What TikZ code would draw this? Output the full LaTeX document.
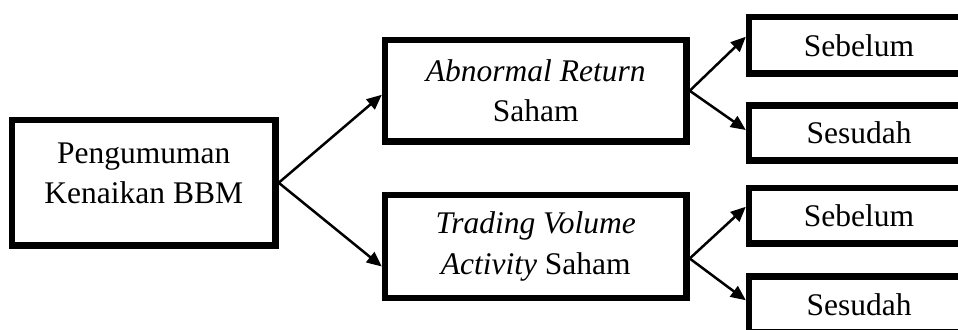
\documentclass[tikz,border=0pt]{standalone}
\usepackage{fontspec}
\setmainfont{Liberation Serif}
\usepackage{tikz}
\usetikzlibrary{arrows.meta}

\begin{document}
\begin{tikzpicture}[x=0.5pt, y=-0.5pt, font=\fontsize{15.75pt}{20.4pt}\selectfont,
        box/.style={draw, line width=3.2pt, inner sep=0pt, align=center},
        arr/.style={-{Triangle[length=7.5pt,width=6.5pt]}, line width=1.25pt}]
        \useasboundingbox (0,0) rectangle (958,329);
        \clip (0,0) rectangle (958,329);
        \node[box, minimum width=131.75pt, minimum height=62.75pt, text depth=9.5pt] (bbm) at (143.75,182.75) {Pengumuman\\Kenaikan BBM};
        \node[box, minimum width=150.75pt, minimum height=50.75pt] (ar) at (535.75,90.75) {\textit{Abnormal Return}\\Saham};
        \node[box, minimum width=150.75pt, minimum height=51.5pt] (tva) at (535.75,246.5) {\textit{Trading Volume}\\\textit{Activity} Saham};
        \node[box, minimum width=110pt, minimum height=28.25pt] (arseb) at (859,45.25) {Sebelum};
        \node[box, minimum width=110pt, minimum height=27.5pt] (arses) at (859,133) {Sesudah};
        \node[box, minimum width=110pt, minimum height=27.75pt] (tvaseb) at (859,215.75) {Sebelum};
        \node[box, minimum width=110pt, minimum height=27.75pt] (tvases) at (859,304.25) {Sesudah};
        \draw[arr] (bbm.east) -- ([yshift=-2pt]ar.west);
        \draw[arr] (bbm.east) -- ([yshift=-10pt]tva.west);
        \draw[arr] (ar.east) -- ([yshift=4.25pt]arseb.west);
        \draw[arr] (ar.east) -- ([yshift=1.5pt]arses.west);
        \draw[arr] ([yshift=-6pt]tva.east) -- ([yshift=4.5pt]tvaseb.west);
        \draw[arr] ([yshift=-6pt]tva.east) -- ([yshift=2pt]tvases.west);
      \end{tikzpicture}
\end{document}
